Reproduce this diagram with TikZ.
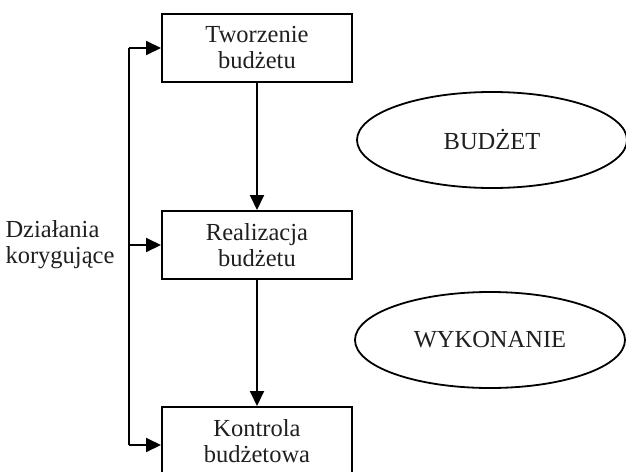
\documentclass[tikz,border=0pt]{standalone}
\usepackage{fontspec}
\setmainfont{Liberation Serif}
\usetikzlibrary{arrows.meta,shapes.geometric}
\begin{document}
\begin{tikzpicture}[x=1pt,y=-1pt,
  every node/.style={font=\fontsize{24.5}{26}\selectfont, text=black!88},
  stepbox/.style={draw, line width=2pt, minimum width=190pt, minimum height=68pt, align=center, inner sep=0pt},
  oval/.style={draw, ellipse, line width=1.8pt, minimum width=270pt, minimum height=96pt, inner sep=0pt},
  line/.style={line width=2pt},
  arr/.style={line width=2pt, -{Triangle[length=15pt,width=14pt]}}]
\useasboundingbox (0,0) rectangle (626,471);
\node[stepbox] (b1) at (257,48) {Tworzenie\\budżetu};
\node[stepbox] (b2) at (257,245) {Realizacja\\budżetu};
\node[stepbox] (b3) at (257,441) {Kontrola\\budżetowa};
\node[oval] (e1) at (492,140) {BUDŻET};
\node[oval] (e2) at (490,340) {WYKONANIE};
\node[anchor=west, align=left] (lab) at (2,245) {Działania\\korygujące};
\coordinate (top) at (129,48);
\coordinate (bot) at (129,445);
\draw[line] (top) -- (bot);
\draw[arr] (top) -- (b1.west);
\draw[arr] (top |- b2.west) -- (b2.west);
\draw[arr] (bot) -- (b3.west |- bot);
\draw[arr] (b1.south) -- (b2.north);
\draw[arr] (b2.south) -- (b3.north);
\end{tikzpicture}
\end{document}
